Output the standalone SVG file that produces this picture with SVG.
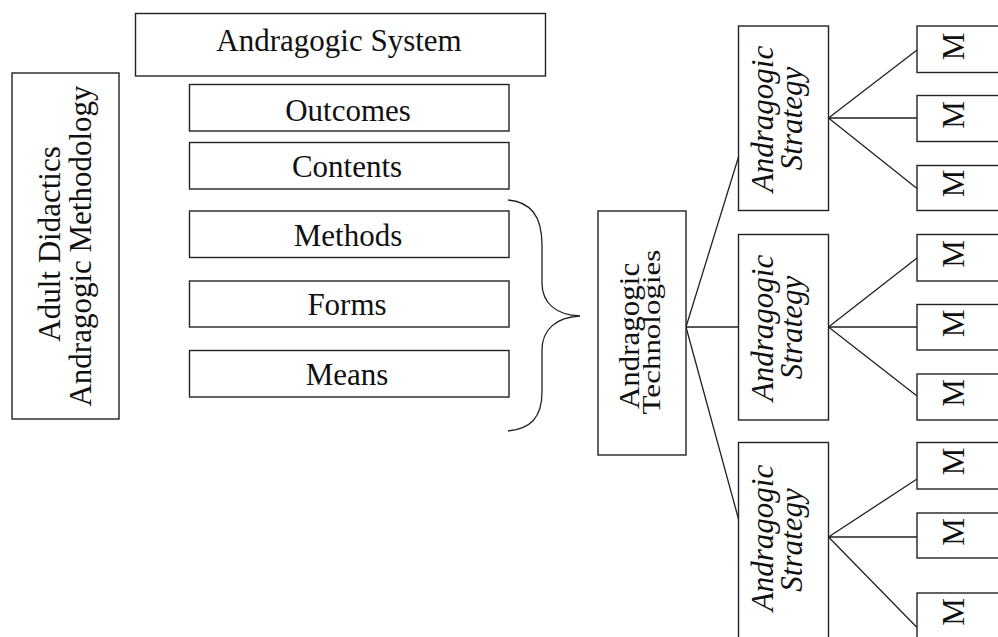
<svg xmlns="http://www.w3.org/2000/svg" width="998" height="637" viewBox="0 0 998 637">
<style>
.box{fill:#fff;stroke:#222;stroke-width:1.4}
.t{font-family:"Liberation Serif","Times New Roman",serif;font-size:31px;fill:#111;text-anchor:middle}
.i{font-style:italic}
.ln{fill:none;stroke:#222;stroke-width:1.3}
</style>
<rect width="998" height="637" fill="#fff"/>
<g id="connectors">
<path class="ln" d="M508,200 C530,202 542,215 542,245 L542,283 C542,303 556,315 580,316 C556,317 542,330 542,350 L542,392 C542,418 530,429 508,431"/>
<path class="ln" d="M686,327 L738.5,157 M686,327 L738.5,327 M686,327 L738.5,519"/>
<path class="ln" d="M828.5,118 L917,50 M828.5,118 L917,118 M828.5,118 L917,188.5"/>
<path class="ln" d="M828.5,327 L917,258 M828.5,327 L917,327 M828.5,327 L917,396"/>
<path class="ln" d="M828.5,537 L917,479 M828.5,537 L917,537 M828.5,537 L917,627.5"/>
</g>
<g id="adult-didactics">
<rect class="box" x="12" y="73" width="107" height="346"/>
<text class="t" transform="translate(60,244) rotate(-90)">Adult Didactics</text>
<text class="t" transform="translate(91,246) rotate(-90)">Andragogic Methodology</text>
</g>
<g id="andragogic-system">
<rect class="box" x="135.5" y="13.5" width="410" height="62.5"/>
<text class="t" x="339" y="51">Andragogic System</text>
</g>
<g id="outcomes">
<rect class="box" x="189.5" y="84.5" width="319.5" height="46.5"/>
<text class="t" x="348" y="120.5">Outcomes</text>
</g>
<g id="contents">
<rect class="box" x="189.5" y="142.5" width="319.5" height="46.5"/>
<text class="t" x="347" y="176.5">Contents</text>
</g>
<g id="methods">
<rect class="box" x="189.5" y="211" width="319.5" height="46.5"/>
<text class="t" x="348" y="245.5">Methods</text>
</g>
<g id="forms">
<rect class="box" x="189.5" y="281" width="319.5" height="46"/>
<text class="t" x="347" y="315">Forms</text>
</g>
<g id="means">
<rect class="box" x="189.5" y="350.5" width="319.5" height="46.5"/>
<text class="t" x="347" y="385">Means</text>
</g>
<g id="andragogic-technologies">
<rect class="box" x="598" y="211" width="88" height="244"/>
<text class="t" transform="translate(638.5,336) rotate(-90) scale(1,0.92)">Andragogic</text>
<text class="t" transform="translate(660,332) rotate(-90) scale(1,0.8)">Technologies</text>
</g>
<g id="strategy-1">
<rect class="box" x="738.5" y="26" width="90" height="184.5"/>
<text class="t i" transform="translate(772.5,119) rotate(-90)">Andragogic</text>
<text class="t i" transform="translate(801.5,118.5) rotate(-90)">Strategy</text>
</g>
<g id="strategy-2">
<rect class="box" x="738.5" y="234.5" width="90" height="185.5"/>
<text class="t i" transform="translate(772.5,328) rotate(-90)">Andragogic</text>
<text class="t i" transform="translate(801.5,327.5) rotate(-90)">Strategy</text>
</g>
<g id="strategy-3">
<rect class="box" x="738.5" y="442.5" width="90" height="205"/>
<text class="t i" transform="translate(772.5,538) rotate(-90)">Andragogic</text>
<text class="t i" transform="translate(801.5,540) rotate(-90)">Strategy</text>
</g>
<g id="m-1-1"><rect class="box" x="917" y="26" width="100" height="46.5"/><text class="t" transform="translate(964,46.5) rotate(-90)">M</text></g>
<g id="m-1-2"><rect class="box" x="917" y="95.5" width="100" height="46"/><text class="t" transform="translate(964,115) rotate(-90)">M</text></g>
<g id="m-1-3"><rect class="box" x="917" y="165.5" width="100" height="45"/><text class="t" transform="translate(964,183.5) rotate(-90)">M</text></g>
<g id="m-2-1"><rect class="box" x="917" y="234.5" width="100" height="46.5"/><text class="t" transform="translate(964,254) rotate(-90)">M</text></g>
<g id="m-2-2"><rect class="box" x="917" y="304.5" width="100" height="45.5"/><text class="t" transform="translate(964,323.5) rotate(-90)">M</text></g>
<g id="m-2-3"><rect class="box" x="917" y="374" width="100" height="46"/><text class="t" transform="translate(964,393) rotate(-90)">M</text></g>
<g id="m-3-1"><rect class="box" x="917" y="442.5" width="100" height="46.5"/><text class="t" transform="translate(964,461.5) rotate(-90)">M</text></g>
<g id="m-3-2"><rect class="box" x="917" y="513" width="100" height="45"/><text class="t" transform="translate(964,532) rotate(-90)">M</text></g>
<g id="m-3-3"><rect class="box" x="917" y="593" width="100" height="60"/><text class="t" transform="translate(964,612) rotate(-90)">M</text></g>
</svg>
